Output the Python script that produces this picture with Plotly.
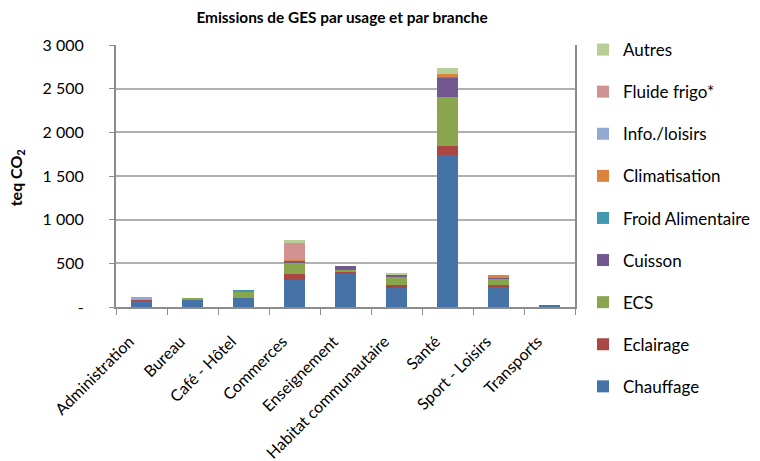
import plotly.graph_objects as go

categories = ["Administration", "Bureau", "Café - Hôtel", "Commerces", "Enseignement",
              "Habitat communautaire", "Santé", "Sport - Loisirs", "Transports"]

chauffage = [78, 78, 103, 313, 384, 220, 1745, 224, 19]
eclairage = [13, 0, 0, 62, 23, 27, 100, 23, 0]
ecs = [0, 23, 70, 124, 22, 91, 558, 83, 0]
cuisson = [0, 0, 6, 31, 35, 38, 222, 5, 0]
froid_alimentaire = [0, 0, 18, 4, 0, 0, 11, 0, 0]
climatisation = [0, 0, 0, 6, 0, 0, 30, 26, 0]
info_loisirs = [21, 0, 0, 0, 0, 0, 0, 0, 0]
fluide_frigo = [0, 0, 0, 197, 0, 0, 0, 0, 0]
autres = [0, 0, 0, 34, 0, 19, 68, 0, 0]

series_names = ["Chauffage", "Eclairage", "ECS", "Cuisson", "Froid Alimentaire",
                "Climatisation", "Info./loisirs", "Fluide frigo*", "Autres"]
series_values = [chauffage, eclairage, ecs, cuisson, froid_alimentaire,
                 climatisation, info_loisirs, fluide_frigo, autres]
series_colors = ["#4572A7", "#AA4643", "#89A54E", "#71588F", "#4198AF",
                 "#DB843D", "#93A9CF", "#D19392", "#B9CD96"]

y_tickvals = [0, 500, 1000, 1500, 2000, 2500, 3000]
y_ticktext = ["-", "500", "1 000", "1 500", "2 000", "2 500", "3 000"]

FONT = "Lato"

fig = go.Figure()
n = len(series_names)
for i, (name, vals, col) in enumerate(zip(series_names, series_values, series_colors)):
    fig.add_trace(go.Bar(
        x=categories, y=vals, name=name, marker=dict(color=col, line=dict(width=0)),
        legendgroup=name, legendrank=n - i,
    ))

fig.update_layout(
    barmode="stack",
    bargap=0.59,
    width=760, height=461,
    margin=dict(l=116, r=185, t=45, b=154, pad=0),
    paper_bgcolor="white", plot_bgcolor="white",
    font=dict(family=FONT, size=16, color="#000000"),
    title=dict(text="<b>Emissions de GES par usage et par branche</b>",
               x=(342) / 760, xanchor="center", y=1 - 18 / 461, yanchor="middle",
               font=dict(family=FONT, size=15.4, color="#000000")),
    showlegend=True,
    legend=dict(
        traceorder="grouped",
        xref="container", yref="container",
        x=583 / 760, xanchor="left", y=1 - 32 / 461, yanchor="top",
        tracegroupgap=17,
        font=dict(family=FONT, size=17, color="#000000"),
        itemwidth=30,
        maxheight=440,
    ),
    xaxis=dict(
        type="category",
        automargin=False,
        showline=True, linecolor="#8C8C8C", linewidth=2,
        ticks="outside", tickson="boundaries", ticklen=6, tickcolor="#8C8C8C", tickwidth=1,
        tickangle=-45,
        ticklabelstandoff=17, ticklabelshift=-12,
        tickfont=dict(family=FONT, size=16, color="#000000"),
        showgrid=False,
    ),
    yaxis=dict(
        range=[0, 3000],
        automargin=False,
        tickvals=y_tickvals, ticktext=y_ticktext,
        showline=True, mirror=True, linecolor="#8C8C8C", linewidth=2,
        ticks="outside", ticklen=5, tickcolor="#8C8C8C", tickwidth=1,
        ticklabelstandoff=22,
        showgrid=True, gridcolor="#B0B0B0", gridwidth=1.5,
        zeroline=False,
        tickfont=dict(family=FONT, size=16, color="#000000"),
    ),
    annotations=[dict(
        text="<b>teq CO<sub>2</sub></b>", textangle=-90,
        xref="paper", yref="paper", x=(16 - 116) / 459, y=(306.7 - 178) / 262,
        xanchor="center", yanchor="middle", showarrow=False,
        font=dict(family=FONT, size=16, color="#000000"),
    )],
)

fig.write_html("out.html", post_script="document.body.style.margin='0px';",
               config={"displayModeBar": False})
